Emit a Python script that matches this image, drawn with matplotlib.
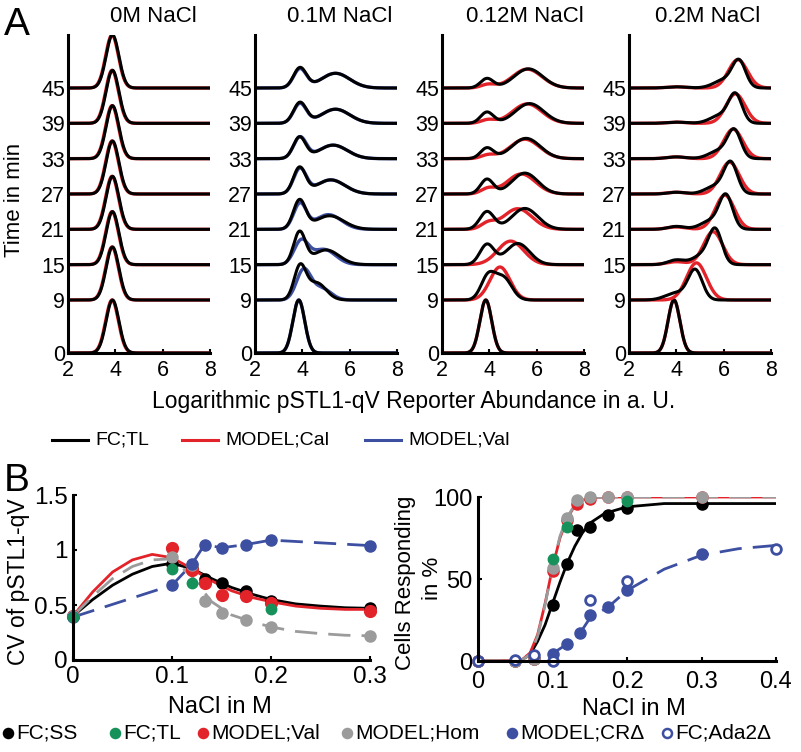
import numpy as np
import matplotlib.pyplot as plt
from matplotlib.lines import Line2D

plt.rcParams['font.family'] = ['Liberation Sans', 'DejaVu Sans']

W, H = 801, 752

BLACK = '#000000'
RED = '#e3232a'
BLUE = '#3d4fa1'
GREEN = '#17915a'
GRAY = '#9b9b9b'

# ---- panel A: distributions per time point ----
times = [0, 9, 15, 21, 27, 33, 39, 45]
salt_titles = ['0M NaCl', '0.1M NaCl', '0.12M NaCl', '0.2M NaCl']

# peaks: (centre, height, width) for each time point
fc_0M = [[(3.88, 9.0, 0.27)]] * 8
cal_0M = [[(3.86, 9.0, 0.27)]] * 8

fc_01M = [
    [(3.85, 9.0, 0.25)],
    [(3.9, 5.5, 0.25), (4.6, 2.9, 0.4)],
    [(3.88, 5.4, 0.25), (5.0, 2.5, 0.55)],
    [(3.88, 4.85, 0.26), (5.15, 2.3, 0.6)],
    [(3.88, 4.4, 0.26), (5.2, 2.4, 0.6)],
    [(3.88, 3.6, 0.26), (5.3, 2.3, 0.6)],
    [(3.9, 3.5, 0.27), (5.4, 2.4, 0.6)],
    [(3.9, 3.4, 0.27), (5.4, 2.5, 0.6)],
]
val_01M = [
    [(3.85, 9.0, 0.25)],
    [(4.05, 5.0, 0.3), (4.8, 2.0, 0.4)],
    [(3.95, 3.9, 0.3), (4.9, 2.6, 0.5)],
    [(3.9, 4.3, 0.27), (5.1, 2.5, 0.55)],
    [(3.9, 4.2, 0.27), (5.2, 2.4, 0.6)],
    [(3.9, 3.6, 0.27), (5.3, 2.3, 0.6)],
    [(3.9, 3.3, 0.27), (5.4, 2.4, 0.6)],
    [(3.9, 3.2, 0.27), (5.4, 2.5, 0.6)],
]

fc_012M = [
    [(3.85, 9.0, 0.25)],
    [(3.95, 4.0, 0.3), (4.6, 3.7, 0.35)],
    [(3.9, 3.4, 0.3), (5.2, 3.6, 0.5)],
    [(3.9, 3.0, 0.3), (5.5, 3.55, 0.55)],
    [(3.9, 2.5, 0.27), (5.5, 3.55, 0.55)],
    [(3.9, 1.8, 0.27), (5.55, 3.45, 0.6)],
    [(3.9, 1.9, 0.27), (5.7, 3.35, 0.6)],
    [(3.9, 1.6, 0.27), (5.65, 3.25, 0.6)],
]
cal_012M = [
    [(3.85, 9.0, 0.25)],
    [(4.45, 5.6, 0.42)],
    [(4.9, 4.0, 0.55)],
    [(5.2, 3.5, 0.6), (3.95, 1.0, 0.3)],
    [(5.35, 3.4, 0.6), (3.95, 0.9, 0.3)],
    [(5.5, 3.3, 0.62), (3.95, 0.6, 0.3)],
    [(5.6, 3.3, 0.62), (3.95, 0.6, 0.3)],
    [(5.6, 3.2, 0.62), (3.95, 0.6, 0.3)],
]

fc_02M = [
    [(3.9, 9.0, 0.25)],
    [(4.8, 5.0, 0.3), (4.0, 1.2, 0.45)],
    [(5.65, 5.6, 0.28), (5.1, 1.6, 0.4), (4.0, 0.8, 0.35)],
    [(6.1, 5.4, 0.28), (5.5, 1.5, 0.45), (4.0, 0.5, 0.35)],
    [(6.3, 5.0, 0.28), (5.7, 1.4, 0.45), (4.0, 0.3, 0.35)],
    [(6.45, 4.5, 0.28), (5.85, 1.4, 0.45), (4.0, 0.3, 0.4)],
    [(6.5, 4.6, 0.28), (5.9, 1.4, 0.45), (4.0, 0.2, 0.4)],
    [(6.65, 4.3, 0.28), (6.05, 1.4, 0.45), (4.0, 0.2, 0.4)],
]
cal_02M = [
    [(3.9, 9.0, 0.25)],
    [(4.85, 6.3, 0.42)],
    [(5.55, 5.6, 0.4), (4.0, 0.5, 0.4)],
    [(6.05, 5.8, 0.4), (4.0, 0.4, 0.4)],
    [(6.25, 5.4, 0.4), (4.0, 0.3, 0.4)],
    [(6.4, 5.0, 0.4), (4.0, 0.3, 0.4)],
    [(6.5, 5.0, 0.4), (4.0, 0.2, 0.4)],
    [(6.6, 4.8, 0.4), (4.0, 0.2, 0.4)],
]

fc_sets = [fc_0M, fc_01M, fc_012M, fc_02M]
model_sets = [cal_0M, val_01M, cal_012M, cal_02M]
model_colors = [RED, BLUE, RED, RED]

# ---- panel B left: CV vs NaCl ----
cv_x = [0, 0.1, 0.12, 0.133, 0.15, 0.175, 0.2, 0.3]
cv_ss = [0.40, 0.87, 0.84, 0.74, 0.70, 0.63, 0.54, 0.47]
cv_val = [0.40, 1.02, 0.82, 0.70, 0.59, 0.58, 0.52, 0.45]
cv_hom = [0.40, 0.94, 0.86, 0.54, 0.43, 0.36, 0.30, 0.22]
cv_cr = [0.39, 0.68, 0.87, 1.05, 1.02, 1.05, 1.09, 1.04]
cv_tl_x = [0, 0.1, 0.12, 0.2]
cv_tl = [0.39, 0.83, 0.70, 0.46]

cv_fit_x = [0, 0.02, 0.04, 0.06, 0.08, 0.1, 0.12, 0.14, 0.16, 0.18, 0.2, 0.225, 0.25, 0.275, 0.3]
cv_fit_ss = [0.40, 0.55, 0.68, 0.78, 0.85, 0.88, 0.83, 0.74, 0.66, 0.60, 0.55, 0.51, 0.49, 0.475, 0.47]
cv_fit_val = [0.40, 0.62, 0.80, 0.91, 0.96, 0.93, 0.83, 0.72, 0.63, 0.57, 0.53, 0.49, 0.47, 0.46, 0.46]
cv_fit_hom = [0.40, 0.58, 0.74, 0.85, 0.91, 0.92, 0.76, 0.53, 0.41, 0.35, 0.30, 0.26, 0.24, 0.225, 0.22]

# ---- panel B right: responding cells vs NaCl ----
resp_x = [0, 0.05, 0.075, 0.1, 0.12, 0.133, 0.15, 0.175, 0.2, 0.3]
resp_ss = [0, 0, 1, 34, 59, 80, 82, 89, 93.5, 96]
resp_val = [0, 0, 1, 55, 86, 96, 99, 100, 100, 100]
resp_hom = [0, 0, 1, 57, 87, 98, 100, 100, 100, 100]
resp_tl_x = [0.1, 0.12, 0.2]
resp_tl = [62, 82, 97.5]
resp_cr_x = [0.1, 0.12, 0.137, 0.15, 0.175, 0.2, 0.3]
resp_cr = [4.5, 10.5, 17, 28, 33, 43, 65.5]
resp_ada_x = [0, 0.05, 0.075, 0.1, 0.15, 0.2, 0.4]
resp_ada = [0, 0.5, 3.5, 0, 37, 49, 68]

resp_fit_x = [0, 0.05, 0.06, 0.07, 0.08, 0.09, 0.1, 0.11, 0.12, 0.13, 0.14, 0.15, 0.17, 0.2, 0.25, 0.3, 0.4]
resp_fit_ss = [0, 0, 1, 4, 12, 22, 35, 48, 60, 70, 78, 84, 90, 94, 96, 96, 96]
resp_fit_val = [0, 0, 1, 5, 16, 35, 57, 75, 87, 95, 98, 99.5, 100, 100, 100, 100, 100]
resp_fit_hom = [0, 0, 1, 4, 15, 34, 57, 76, 88, 95, 98, 99.5, 100, 100, 100, 100, 100]
resp_fit_cr_x = [0.1, 0.12, 0.137, 0.15, 0.175, 0.2, 0.25, 0.3, 0.35, 0.4]
resp_fit_cr = [4.5, 10.5, 17, 26, 33, 43, 56, 64.5, 68.5, 70.5]


def fpos(x, y):
    return x / W, 1 - y / H


def rect(x0, y0, x1, y1):
    # pixel box -> figure fraction
    return [x0 / W, 1 - y1 / H, (x1 - x0) / W, (y1 - y0) / H]


def density(xs, peaks):
    y = np.zeros_like(xs)
    for c, h, s in peaks:
        y += h * np.exp(-(xs - c) ** 2 / (2 * s ** 2))
    return y


def style_axes(ax, size):
    for side in ['top', 'right']:
        ax.spines[side].set_visible(False)
    for side in ['left', 'bottom']:
        ax.spines[side].set_linewidth(2.2)
    ax.tick_params(direction='in', length=3, width=1.5, labelsize=size)


fig = plt.figure(figsize=(W / 100, H / 100), dpi=100)

xs = np.linspace(2, 8, 400)
lefts = [68, 255, 442, 629]
title_x = [153, 340, 525, 708]
for i in range(4):
    ax = fig.add_axes(rect(lefts[i], 35, lefts[i] + 142, 353))
    for t, mp, fp in zip(times, model_sets[i], fc_sets[i]):
        ax.plot(xs, t + density(xs, mp), color=model_colors[i], lw=2.4, solid_capstyle='butt')
        ax.plot(xs, t + density(xs, fp), color=BLACK, lw=2.2, solid_capstyle='butt')
    ax.set_xlim(2, 8)
    ax.set_ylim(0, 54)
    ax.set_xticks([2, 4, 6, 8])
    ax.set_yticks(times)
    style_axes(ax, 15.5)
    ax.tick_params(axis='y', length=0, pad=2)
    ax.tick_params(axis='x', pad=5)
    fig.text(*fpos(title_x[i], 17), salt_titles[i], ha='center', va='center', fontsize=16)

fig.text(*fpos(4, 25), 'A', ha='left', va='center', fontsize=28)
fig.text(*fpos(15, 200), 'Time in min', rotation=90, ha='center', va='center', fontsize=16)
fig.text(*fpos(414, 402), 'Logarithmic pSTL1-qV Reporter Abundance in a. U.',
         ha='center', va='center', fontsize=16.5)

# legend of panel A
for x0, col, lab in [(52, BLACK, 'FC;TL'), (182, RED, 'MODEL;Cal'), (365, BLUE, 'MODEL;Val')]:
    fig.add_artist(Line2D([x0 / W, (x0 + 36) / W], [1 - 440 / H] * 2, color=col, lw=2.2,
                          transform=fig.transFigure))
    fig.text(*fpos(x0 + 43, 440), lab, ha='left', va='center', fontsize=14)

# ---- B left ----
ax = fig.add_axes(rect(73, 495, 370, 660))
ax.plot(cv_x, cv_cr, color=BLUE, lw=2, dashes=(8, 4))
ax.plot(cv_fit_x, cv_fit_ss, color=BLACK, lw=2)
ax.plot(cv_fit_x, cv_fit_val, color=RED, lw=2)
ax.plot(cv_fit_x, cv_fit_hom, color=GRAY, lw=2, dashes=(8, 4))
ax.plot(cv_x, cv_ss, 'o', color=BLACK, ms=8, clip_on=False)
ax.plot(cv_x, cv_val, 'o', color=RED, ms=8.5, clip_on=False)
ax.plot(cv_x, cv_hom, 'o', color=GRAY, ms=8, clip_on=False)
ax.plot(cv_x, cv_cr, 'o', color=BLUE, ms=8, clip_on=False)
ax.plot(cv_tl_x, cv_tl, 'o', color=GREEN, ms=7.5, clip_on=False)
ax.set_xlim(0, 0.3)
ax.set_ylim(0, 1.5)
ax.set_xticks([0, 0.1, 0.2, 0.3])
ax.set_xticklabels(['0', '0.1', '0.2', '0.3'])
ax.set_yticks([0, 0.5, 1, 1.5])
ax.set_yticklabels(['0', '0.5', '1', '1.5'])
style_axes(ax, 17.5)
ax.tick_params(pad=4)

fig.text(*fpos(4, 481), 'B', ha='left', va='center', fontsize=28)
fig.text(*fpos(19, 582), 'CV of pSTL1-qV', rotation=90, ha='center', va='center', fontsize=16.5)
fig.text(*fpos(220, 707), 'NaCl in M', ha='center', va='center', fontsize=17)

# ---- B right ----
ax = fig.add_axes(rect(478, 497, 776, 661))
ax.plot(resp_fit_cr_x, resp_fit_cr, color=BLUE, lw=2, dashes=(8, 4))
ax.plot(resp_fit_x, resp_fit_ss, color=BLACK, lw=2)
ax.plot(resp_fit_x, resp_fit_val, color=RED, lw=2)
ax.plot(resp_fit_x, resp_fit_hom, color=GRAY, lw=2, dashes=(8, 4))
ax.plot(resp_x, resp_ss, 'o', color=BLACK, ms=8, clip_on=False)
ax.plot(resp_x, resp_val, 'o', color=RED, ms=8, clip_on=False)
ax.plot(resp_x, resp_hom, 'o', color=GRAY, ms=8, clip_on=False)
ax.plot(resp_tl_x, resp_tl, 'o', color=GREEN, ms=7.5, clip_on=False)
ax.plot(resp_cr_x, resp_cr, 'o', color=BLUE, ms=8, clip_on=False)
ax.plot(resp_ada_x, resp_ada, 'o', mfc='white', mec=BLUE, mew=2, ms=7, clip_on=False)
ax.set_xlim(0, 0.4)
ax.set_ylim(0, 100)
ax.set_xticks([0, 0.1, 0.2, 0.3, 0.4])
ax.set_xticklabels(['0', '0.1', '0.2', '0.3', '0.4'])
ax.set_yticks([0, 50, 100])
style_axes(ax, 17)
ax.tick_params(axis='x', pad=7)
ax.tick_params(axis='y', pad=4)

fig.text(*fpos(406, 583), 'Cells Responding', rotation=90, ha='center', va='center', fontsize=16)
fig.text(*fpos(432, 578), 'in %', rotation=90, ha='center', va='center', fontsize=16)
fig.text(*fpos(634, 709), 'NaCl in M', ha='center', va='center', fontsize=17)

# legend of panel B
legend_items = [
    (8, BLACK, BLACK, 'FC;SS'),
    (115, GREEN, GREEN, 'FC;TL'),
    (203, RED, RED, 'MODEL;Val'),
    (347, GRAY, GRAY, 'MODEL;Hom'),
    (512, BLUE, BLUE, 'MODEL;CR\u0394'),
    (667, 'white', BLUE, 'FC;Ada2\u0394'),
]
for x0, fc, ec, lab in legend_items:
    fig.add_artist(Line2D([x0 / W], [1 - 733 / H], marker='o', ls='none', ms=6.5,
                          mfc=fc, mec=ec, mew=1.8, transform=fig.transFigure))
    fig.text(*fpos(x0 + 8, 733), lab, ha='left', va='center', fontsize=15)

fig.savefig('out.png', dpi=100)
